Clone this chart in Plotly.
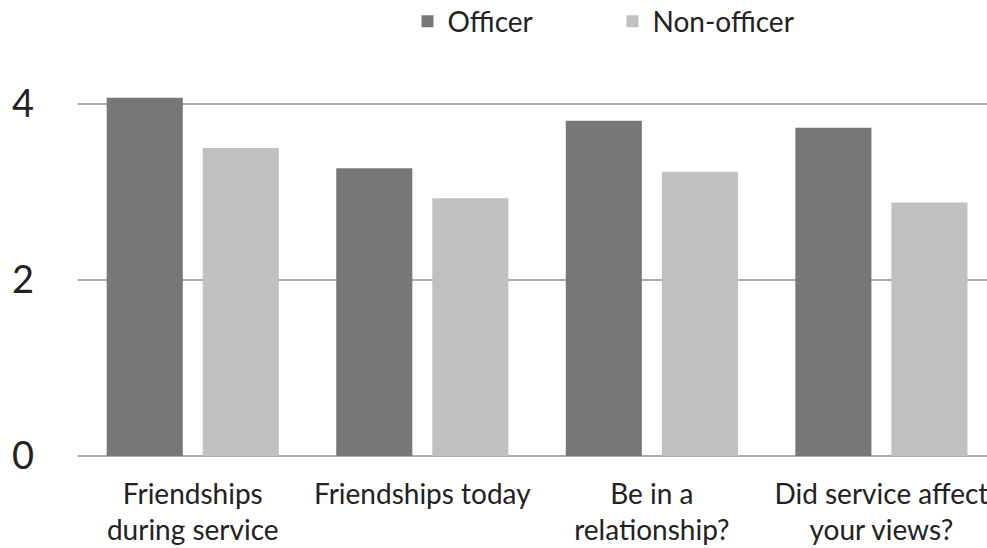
import plotly.graph_objects as go

categories = ["Friendships<br>during service", "Friendships today", "Be in a<br>relationship?", "Did service affect<br>your views?"]
officer = [4.07, 3.27, 3.81, 3.73]
non_officer = [3.50, 2.93, 3.23, 2.88]
y_ticks = [0, 2, 4]

FONT = "Lato, 'Open Sans', sans-serif"

fig = go.Figure()
fig.add_trace(go.Bar(x=list(range(len(categories))), y=officer, name="Officer",
                     marker=dict(color="#777777", line=dict(width=0))))
fig.add_trace(go.Bar(x=list(range(len(categories))), y=non_officer, name="Non-officer",
                     marker=dict(color="#c0c0c0", line=dict(width=0))))

fig.update_layout(
    width=987, height=548,
    margin=dict(l=78, r=0, t=60, b=92, autoexpand=False),
    paper_bgcolor="white", plot_bgcolor="white",
    barmode="group", bargap=0.163, bargroupgap=0.208,
    font=dict(family=FONT, color="#222222"),
    showlegend=True,
    legend=dict(orientation="h", x=0.588, xanchor="center", y=1.16, yanchor="top",
                yref="paper", font=dict(size=28, color="#222222"),
                entrywidth=160, itemsizing="constant", traceorder="normal"),
    xaxis=dict(tickmode="array", tickvals=list(range(len(categories))), ticktext=categories,
               range=[-0.5, 3.46], showgrid=False, showline=False, zeroline=False,
               tickfont=dict(size=28, color="#222222"), ticks="", ticklabelstandoff=19,
               ticklabeloverflow="allow"),
    yaxis=dict(range=[0, 4.5], tickvals=y_ticks, showgrid=True, gridcolor="#a8a8a8", gridwidth=2,
               zeroline=True, zerolinecolor="#a8a8a8", zerolinewidth=2, showline=False,
               tickfont=dict(size=38, color="#222222"), ticks="", ticklabelstandoff=43),
)

fig.write_html("out.html")
